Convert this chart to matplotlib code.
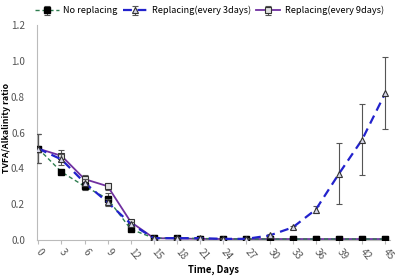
import matplotlib
matplotlib.use("Agg")
import matplotlib.pyplot as plt
import numpy as np

days = [0, 3, 6, 9, 12, 15, 18, 21, 24, 27, 30, 33, 36, 39, 42, 45]
no_replacing = [0.51, 0.38, 0.30, 0.23, 0.06, 0.01, 0.01, 0.008, 0.006, 0.005, 0.005, 0.005, 0.005, 0.005, 0.005, 0.005]
no_replacing_err = [0.08, 0.01, 0.02, 0.03, 0.01, 0.005, 0.005, 0.003, 0.003, 0.003, 0.003, 0.003, 0.003, 0.003, 0.003, 0.003]
rep3 = [0.51, 0.45, 0.32, 0.21, 0.09, 0.01, 0.01, 0.01, 0.006, 0.006, 0.025, 0.07, 0.17, 0.37, 0.56, 0.82]
rep3_err = [0.08, 0.03, 0.02, 0.02, 0.01, 0.005, 0.005, 0.005, 0.003, 0.003, 0.01, 0.01, 0.02, 0.17, 0.20, 0.20]
rep9 = [0.51, 0.47, 0.34, 0.30, 0.10, 0.01, 0.008, 0.006, 0.005, 0.005, 0.005, 0.005, 0.005, 0.005, 0.005, 0.005]
rep9_err = [0.08, 0.03, 0.02, 0.02, 0.01, 0.005, 0.003, 0.003, 0.003, 0.003, 0.003, 0.003, 0.003, 0.003, 0.003, 0.003]
yticks = [0.0, 0.2, 0.4, 0.6, 0.8, 1.0, 1.2]

plt.rcParams['font.family'] = ['Noto Sans CJK KR', 'DejaVu Sans']
fig = plt.figure(figsize=(3.95, 2.79), dpi=100)
ax = fig.add_axes([0.093, 0.14, 0.894, 0.77])

ekw = dict(ecolor='#555555', elinewidth=0.8, capsize=2, capthick=0.8)
ax.errorbar(days, no_replacing, yerr=no_replacing_err, color='#2e7d4f', ls=(0, (3, 2)), lw=1.0,
            marker='s', ms=5, mfc='black', mec='black', label='No replacing', zorder=3, **ekw)
ax.errorbar(days, rep3, yerr=rep3_err, color='#2222cc', ls=(0, (4, 2.5)), lw=1.6,
            marker='^', ms=5, mfc='#d8d8e8', mec='#333333', mew=0.8, label='Replacing(every 3days)', zorder=4, **ekw)
ax.errorbar(days, rep9, yerr=rep9_err, color='#7030a0', ls='-', lw=1.3,
            marker='s', ms=5, mfc='#e0e0e0', mec='#333333', mew=0.8, label='Replacing(every 9days)', zorder=2, **ekw)

ax.set_xlim(-0.2, 45.6)
ax.set_ylim(0, 1.2)
ax.set_xticks(days)
ax.set_xticklabels([str(d) for d in days], rotation=-50, ha='left', va='center', rotation_mode='anchor',
                   fontsize=7.2, color='#555555')
ax.set_yticks(yticks)
ax.set_yticklabels([f"{v:.1f}" for v in yticks], fontsize=7.2, color='#555555')
ax.tick_params(axis='y', length=0, pad=8.5)
ax.tick_params(axis='x', length=3, color='#bbbbbb', direction='out', pad=4)
for s in ['top', 'right']:
    ax.spines[s].set_visible(False)
for s in ['left', 'bottom']:
    ax.spines[s].set_color('#bbbbbb')
    ax.spines[s].set_linewidth(0.8)

ax.set_xlabel('Time, Days', fontsize=6.8, fontweight='bold', labelpad=2)
ax.set_ylabel('TVFA/Alkalinity ratio', fontsize=6.3, fontweight='bold')
ax.yaxis.set_label_coords(-0.074, 0.52)

leg = ax.legend(loc='lower left', bbox_to_anchor=(-0.005, 1.045), ncol=3, frameon=False,
                fontsize=6.6, handlelength=2.6, columnspacing=0.6, handletextpad=0.5, borderaxespad=0,
                borderpad=0)

fig.savefig('out.png', dpi=100)
